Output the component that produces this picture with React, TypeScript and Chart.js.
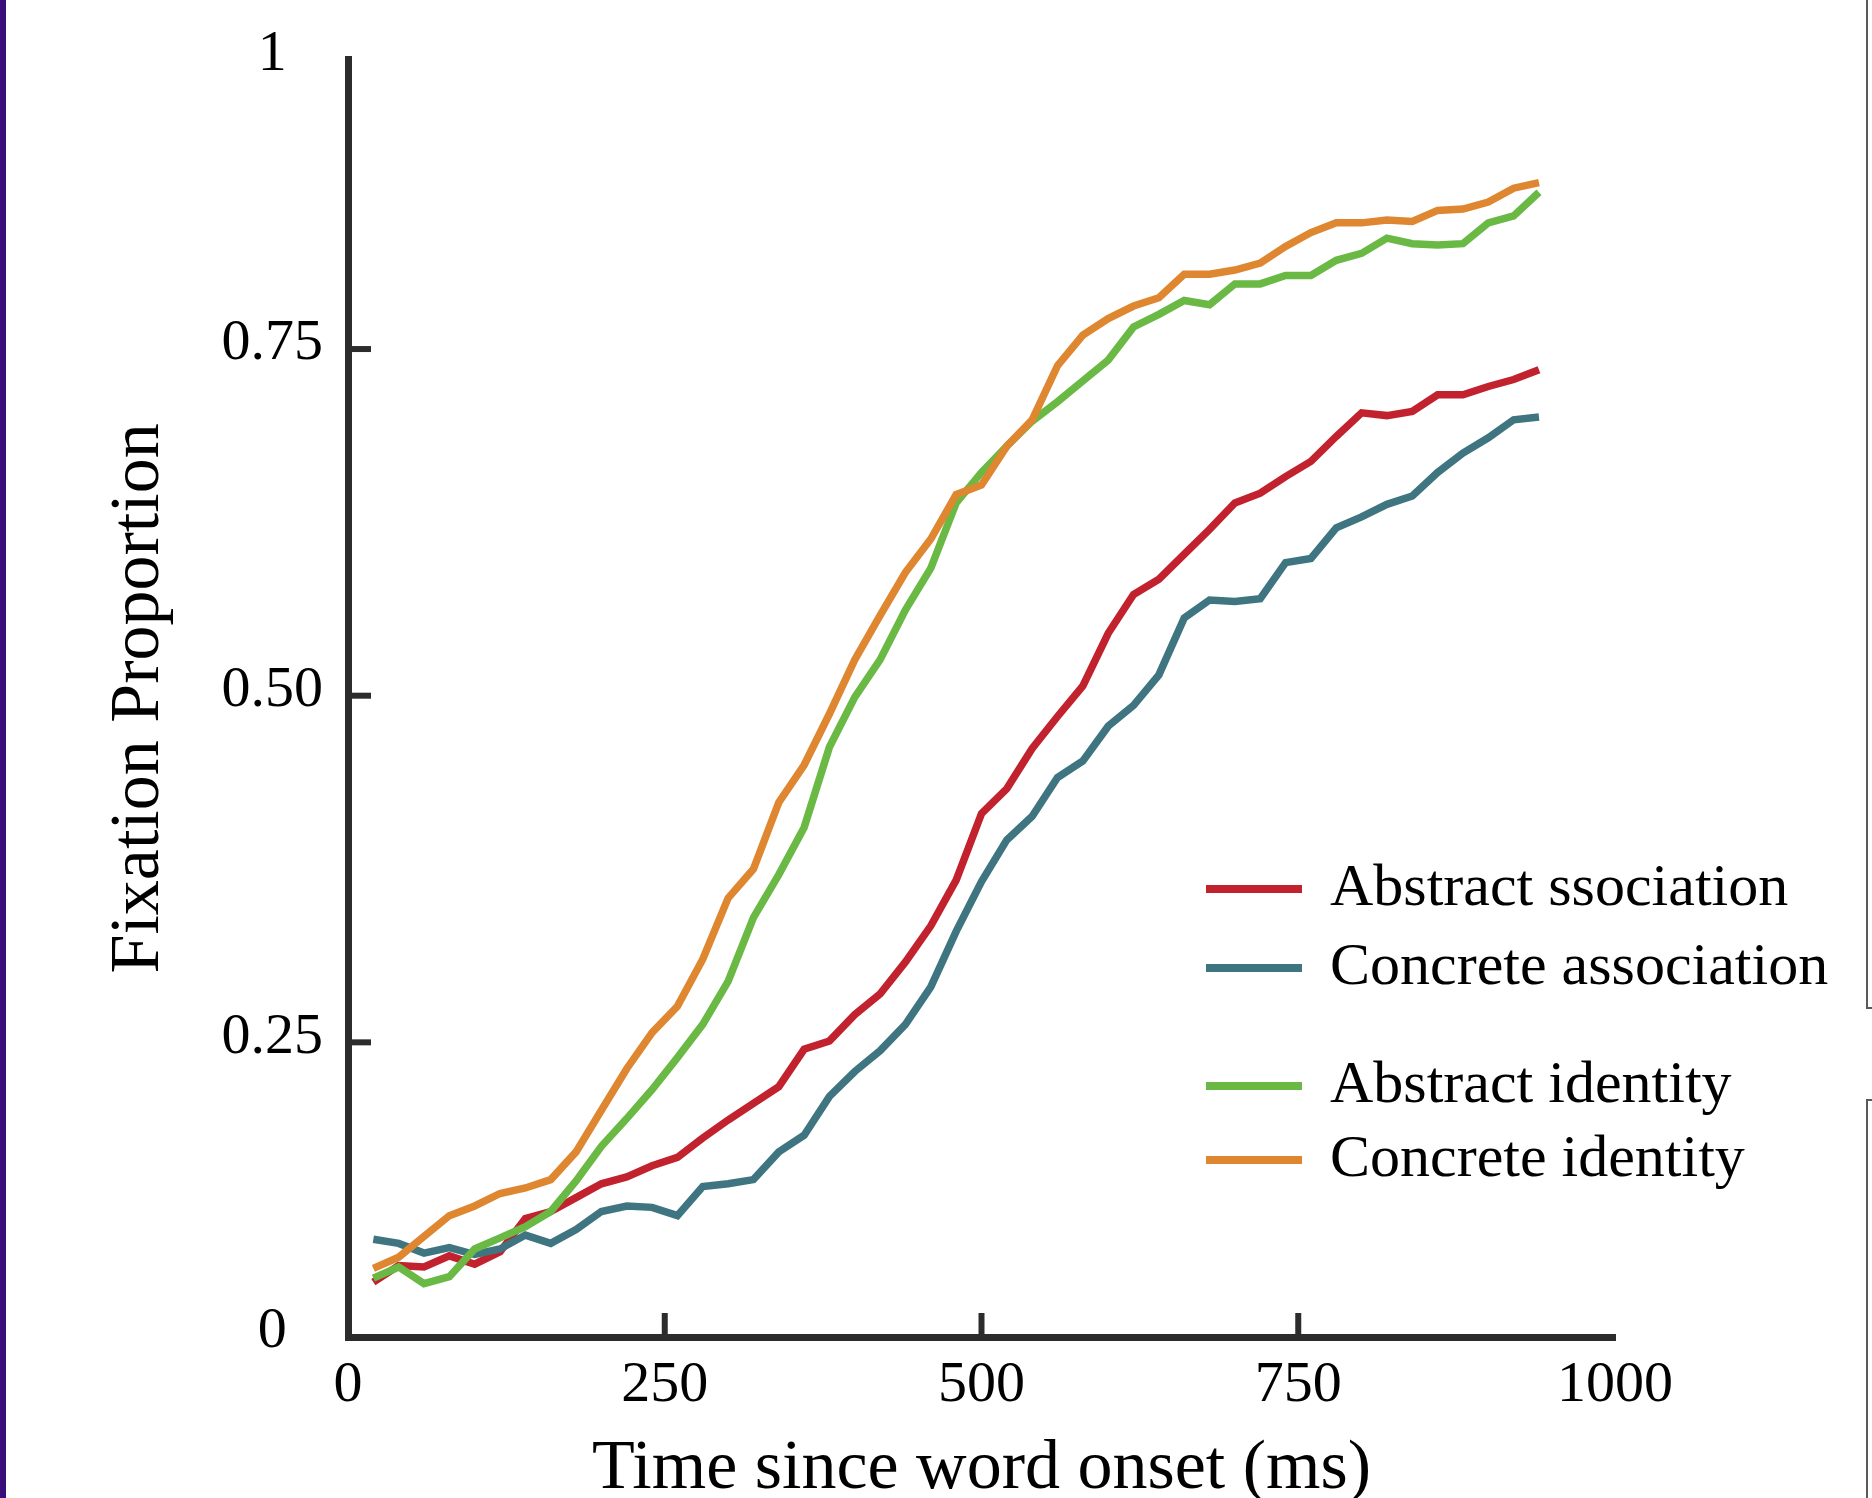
import React, { useEffect, useRef } from "react";
import { Chart, registerables } from "chart.js";

Chart.register(...registerables);

// Time bins (ms since word onset)
const timeMs = [
  20, 40, 60, 80, 100, 120, 140, 160, 180, 200, 220, 240, 260, 280, 300, 320,
  340, 360, 380, 400, 420, 440, 460, 480, 500, 520, 540, 560, 580, 600, 620,
  640, 660, 680, 700, 720, 740, 760, 780, 800, 820, 840, 860, 880, 900, 920, 940,
];

const abstractAssociation = [
  0.077, 0.089, 0.088, 0.096, 0.09, 0.099, 0.123, 0.128, 0.138, 0.148, 0.153,
  0.161, 0.167, 0.181, 0.194, 0.206, 0.218, 0.245, 0.251, 0.27, 0.285, 0.308,
  0.334, 0.367, 0.415, 0.433, 0.462, 0.485, 0.507, 0.545, 0.573, 0.584, 0.602,
  0.62, 0.639, 0.646, 0.658, 0.669, 0.687, 0.704, 0.702, 0.705, 0.717, 0.717,
  0.723, 0.728, 0.735,
];

const concreteAssociation = [
  0.108, 0.105, 0.098, 0.102, 0.097, 0.101, 0.111, 0.105, 0.115, 0.128, 0.132,
  0.131, 0.125, 0.146, 0.148, 0.151, 0.171, 0.183, 0.211, 0.229, 0.244, 0.263,
  0.29, 0.33, 0.366, 0.396, 0.413, 0.441, 0.453, 0.478, 0.493, 0.515, 0.556,
  0.569, 0.568, 0.57, 0.596, 0.599, 0.621, 0.629, 0.638, 0.644, 0.661, 0.675,
  0.686, 0.699, 0.701,
];

const abstractIdentity = [
  0.08, 0.088, 0.076, 0.081, 0.101, 0.109, 0.117, 0.128, 0.15, 0.175, 0.195,
  0.216, 0.239, 0.263, 0.294, 0.34, 0.371, 0.405, 0.463, 0.499, 0.526, 0.562,
  0.592, 0.639, 0.661, 0.68, 0.698, 0.712, 0.727, 0.742, 0.766, 0.775, 0.785,
  0.782, 0.797, 0.797, 0.803, 0.803, 0.814, 0.819, 0.83, 0.826, 0.825, 0.826,
  0.841, 0.846, 0.863,
];

const concreteIdentity = [
  0.087, 0.095, 0.11, 0.125, 0.132, 0.141, 0.145, 0.151, 0.171, 0.201, 0.231,
  0.257, 0.276, 0.31, 0.354, 0.375, 0.423, 0.45, 0.487, 0.526, 0.558, 0.589,
  0.613, 0.645, 0.652, 0.68, 0.699, 0.738, 0.76, 0.772, 0.781, 0.787, 0.804,
  0.804, 0.807, 0.812, 0.824, 0.834, 0.841, 0.841, 0.843, 0.842, 0.85, 0.851,
  0.856, 0.866, 0.87,
];

const seriesLabels = [
  "Abstract ssociation",
  "Concrete association",
  "Abstract identity",
  "Concrete identity",
];
const seriesColors = ["#c1222e", "#3e7581", "#69b944", "#df8630"];

const xTickValues = [0, 250, 500, 750, 1000];
const yInnerTickValues = [0.25, 0.5, 0.75];
const yTickEndLabels = ["0", "1"];

const xTitle = "Time since word onset (ms)";
const yTitle = "Fixation Proportion";

const FONT = "'Liberation Serif', 'Times New Roman', serif";
const AXIS_COLOR = "#2c2c2c";

export default function App() {
  const canvasRef = useRef<HTMLCanvasElement | null>(null);

  useEffect(() => {
    const canvas = canvasRef.current;
    if (!canvas) return;

    const Y_MIN = 0.0375;
    const Y_MAX = 0.9586;

    const allSeries = [
      abstractAssociation,
      concreteAssociation,
      abstractIdentity,
      concreteIdentity,
    ];

    const datasets = allSeries.map((vals, i) => ({
      label: seriesLabels[i],
      data: vals.map((v, j) => ({ x: timeMs[j], y: v })),
      borderColor: seriesColors[i],
      backgroundColor: seriesColors[i],
      borderWidth: 7.5,
      pointRadius: 0,
      tension: 0,
      fill: false,
      borderJoinStyle: "miter" as const,
      order: allSeries.length - 1 - i,
    }));

    const inwardTicks = {
      id: "inwardTicks",
      afterDraw(chart: any) {
        const { ctx, chartArea, scales } = chart;
        ctx.save();
        ctx.strokeStyle = AXIS_COLOR;
        ctx.lineWidth = 6;
        ctx.lineCap = "butt";
        scales.x.ticks.forEach((t: any) => {
          if (t.value > scales.x.min && t.value < scales.x.max) {
            const px = scales.x.getPixelForValue(t.value);
            ctx.beginPath();
            ctx.moveTo(px, chartArea.bottom);
            ctx.lineTo(px, chartArea.bottom - 24);
            ctx.stroke();
          }
        });
        scales.y.ticks.forEach((t: any) => {
          if (t.value > scales.y.min && t.value < scales.y.max) {
            const py = scales.y.getPixelForValue(t.value);
            ctx.beginPath();
            ctx.moveTo(chartArea.left, py);
            ctx.lineTo(chartArea.left + 23, py);
            ctx.stroke();
          }
        });
        ctx.restore();
      },
    };

    const legendRows = [889, 968, 1086, 1160];
    const groupedLegend = {
      id: "groupedLegend",
      afterDraw(chart: any) {
        const { ctx } = chart;
        ctx.save();
        ctx.font = `60px ${FONT}`;
        ctx.textBaseline = "alphabetic";
        ctx.textAlign = "left";
        chart.data.datasets.forEach((ds: any, i: number) => {
          const y = legendRows[i];
          ctx.strokeStyle = ds.borderColor;
          ctx.lineWidth = 8;
          ctx.lineCap = "butt";
          ctx.beginPath();
          ctx.moveTo(1206, y);
          ctx.lineTo(1302, y);
          ctx.stroke();
          ctx.fillStyle = "#000";
          ctx.fillText(ds.label, 1330, y + 16);
        });
        ctx.restore();
      },
    };

    const chart = new Chart(canvas, {
      type: "line",
      data: { datasets },
      options: {
        animation: false,
        responsive: false,
        maintainAspectRatio: false,
        devicePixelRatio: 1,
        layout: { padding: { top: 58, right: 257, bottom: 0, left: 0 } },
        plugins: {
          legend: { display: false },
          tooltip: { enabled: false },
        },
        scales: {
          x: {
            type: "linear",
            min: xTickValues[0],
            max: xTickValues[xTickValues.length - 1],
            afterBuildTicks: (scale: any) => {
              scale.ticks = xTickValues.map((v) => ({ value: v }));
            },
            afterFit: (scale: any) => {
              scale.height = 161;
            },
            grid: { display: false, drawTicks: false },
            border: { display: true, color: AXIS_COLOR, width: 7 },
            ticks: {
              color: "#000",
              padding: 14,
              maxRotation: 0,
              autoSkip: false,
              font: { family: FONT, size: 58 },
              callback: (v: any) => String(v),
            },
            title: {
              display: true,
              text: xTitle,
              color: "#000",
              font: { family: FONT, size: 70, lineHeight: 0.8 },
              padding: { top: 0, bottom: 0 },
            },
          },
          y: {
            type: "linear",
            min: Y_MIN,
            max: Y_MAX,
            afterBuildTicks: (scale: any) => {
              scale.ticks = [Y_MIN, ...yInnerTickValues, Y_MAX].map((v) => ({
                value: v,
              }));
            },
            afterFit: (scale: any) => {
              scale.width = 348;
            },
            grid: { display: false, drawTicks: false },
            border: { display: true, color: AXIS_COLOR, width: 7 },
            ticks: {
              color: "#000",
              padding: 25,
              crossAlign: "center",
              labelOffset: -5,
              autoSkip: false,
              font: { family: FONT, size: 58 },
              callback: (v: any) => {
                if (v === Y_MIN) return yTickEndLabels[0];
                if (v === Y_MAX) return yTickEndLabels[1];
                return Number(v).toFixed(2);
              },
            },
            title: {
              display: true,
              text: yTitle,
              color: "#000",
              font: { family: FONT, size: 70, lineHeight: 1 },
              padding: { top: 105, bottom: 0 },
            },
          },
        },
      },
      plugins: [inwardTicks, groupedLegend],
    } as any);

    return () => {
      chart.destroy();
    };
  }, []);

  return (
    <div
      style={{
        position: "fixed",
        left: 0,
        top: 0,
        width: 1872,
        height: 1498,
        background: "#ffffff",
        overflow: "hidden",
      }}
    >
      <canvas
        ref={canvasRef}
        width={1872}
        height={1498}
        style={{ display: "block", width: 1872, height: 1498 }}
      />
      <div
        style={{
          position: "absolute",
          left: 0,
          top: 0,
          width: 6,
          height: 1498,
          background: "#3a0e78",
        }}
      />
      <div
        style={{
          position: "absolute",
          left: 1866,
          top: 0,
          width: 8,
          height: 1009,
          borderLeft: "2px solid #5a5a5a",
          borderBottom: "2px solid #5a5a5a",
          boxSizing: "border-box",
        }}
      />
      <div
        style={{
          position: "absolute",
          left: 1866,
          top: 1099,
          width: 8,
          height: 399,
          borderLeft: "2px solid #5a5a5a",
          borderTop: "2px solid #5a5a5a",
          boxSizing: "border-box",
        }}
      />
    </div>
  );
}
